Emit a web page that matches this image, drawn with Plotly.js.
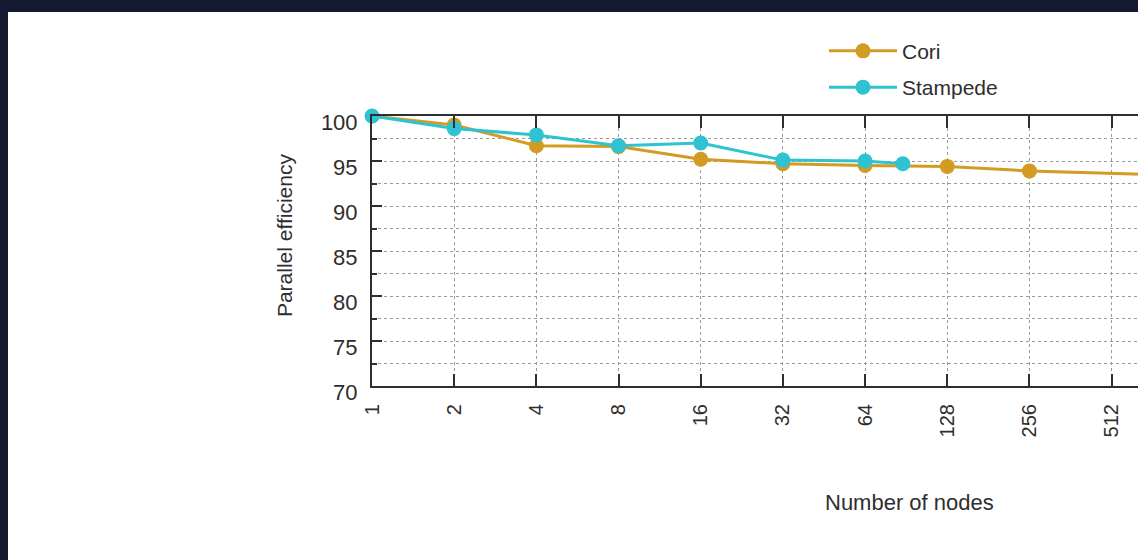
<!DOCTYPE html>
<html><head><meta charset="utf-8">
<script src="https://cdn.plot.ly/plotly-3.0.1.min.js"></script>
<style>
html,body{margin:0;padding:0;width:1138px;height:560px;overflow:hidden;background:#151a33;}
#chart{position:absolute;left:8px;top:12px;width:1310px;height:548px;}
</style></head><body><div id="chart"></div>
<script>
// Data
const nodeTicks = [1, 2, 4, 8, 16, 32, 64, 128, 256, 512];
const tickLabels = ['1', '2', '4', '8', '16', '32', '64', '128', '256', '512'];
const coriNodes = [1, 2, 4, 8, 16, 32, 64, 128, 256, 1024];
const coriEff = [100, 99.0, 96.7, 96.6, 95.2, 94.7, 94.5, 94.4, 93.9, 93.35];
const stampedeNodes = [1, 2, 4, 8, 16, 32, 64, 88];
const stampedeEff = [100, 98.6, 97.9, 96.7, 97.0, 95.1, 95.0, 94.7];
const yTicks = [70, 75, 80, 85, 90, 95, 100];

const FONT = 'Liberation Sans, Arial, Helvetica, sans-serif';
const INK = '#2e2e2e';

const traces = [
  {x: coriNodes, y: coriEff, name: 'Cori', legendgroup: 'c', type: 'scatter', mode: 'lines+markers',
   line: {color: '#d29b22', width: 3}, marker: {color: '#d29b22', size: 15}, cliponaxis: true},
  {x: stampedeNodes, y: stampedeEff, name: 'Stampede', legendgroup: 's', type: 'scatter', mode: 'lines+markers',
   line: {color: '#2fc3d1', width: 3}, marker: {color: '#2fc3d1', size: 15}, cliponaxis: false}
];

const gridStyle = {gridcolor: '#9a9a9a', griddash: 'dot', gridwidth: 1};

const layout = {
  width: 1310, height: 548,
  margin: {l: 364, r: 42, t: 104, b: 174},
  paper_bgcolor: '#ffffff', plot_bgcolor: '#ffffff',
  font: {family: FONT, size: 20, color: INK},
  showlegend: true,
  legend: {x: 0.5, y: 1.316, xanchor: 'left', yanchor: 'top', bgcolor: 'rgba(0,0,0,0)',
           font: {family: FONT, size: 21, color: INK}, traceorder: 'grouped', tracegroupgap: 6,
           itemwidth: 68},
  xaxis: Object.assign({
    type: 'log', range: [0, Math.log10(2048)],
    tickmode: 'array', tickvals: nodeTicks, ticktext: tickLabels, tickangle: -90,
    ticks: 'inside', ticklen: 12, tickwidth: 2, tickcolor: INK,
    showline: true, linecolor: INK, linewidth: 2, mirror: 'ticks',
    showgrid: true, zeroline: false, ticklabelstandoff: 8,
    tickfont: {family: FONT, size: 20, color: INK}
  }, gridStyle),
  yaxis: Object.assign({
    range: [70, 100], tickmode: 'array', tickvals: yTicks,
    ticks: 'inside', ticklen: 10, tickwidth: 2, tickcolor: INK,
    showline: true, linecolor: INK, linewidth: 2, mirror: 'ticks',
    showgrid: true, zeroline: false, ticklabelstandoff: 8, ticklabelshift: 6,
    tickfont: {family: FONT, size: 22, color: INK},
    minor: {tickmode: 'linear', tick0: 70, dtick: 2.5, ticks: 'inside', ticklen: 5, tickcolor: INK,
            showgrid: true, gridcolor: '#9a9a9a', griddash: 'dot', gridwidth: 1}
  }, gridStyle),
  annotations: [
    {text: 'Parallel efficiency', xref: 'paper', yref: 'paper', x: -0.097, y: 0.56,
     xanchor: 'center', yanchor: 'middle', textangle: -90, showarrow: false,
     font: {family: FONT, size: 21, color: INK}},
    {text: 'Number of nodes', xref: 'paper', yref: 'paper', x: 0.595, y: -0.433,
     xanchor: 'center', yanchor: 'middle', showarrow: false,
     font: {family: FONT, size: 22, color: INK}}
  ]
};

Plotly.newPlot('chart', traces, layout, {displayModeBar: false, staticPlot: true});
</script></body></html>
